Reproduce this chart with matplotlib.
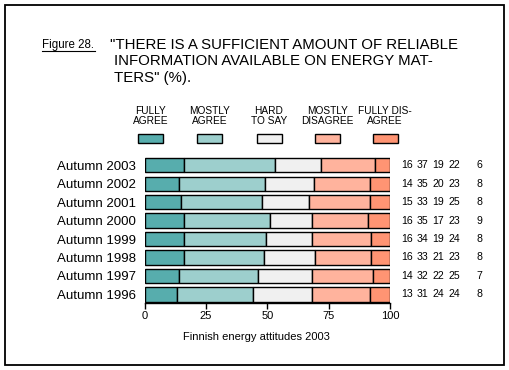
import numpy as np
import matplotlib
matplotlib.use('Agg')
import matplotlib.pyplot as plt
from matplotlib.patches import Rectangle

plt.rcParams['font.family'] = ['Liberation Sans', 'DejaVu Sans']

years = ['Autumn 2003', 'Autumn 2002', 'Autumn 2001', 'Autumn 2000',
         'Autumn 1999', 'Autumn 1998', 'Autumn 1997', 'Autumn 1996']
fully_agree = [16, 14, 15, 16, 16, 16, 14, 13]
mostly_agree = [37, 35, 33, 35, 34, 33, 32, 31]
hard_to_say = [19, 20, 19, 17, 19, 21, 22, 24]
mostly_disagree = [22, 23, 25, 23, 24, 23, 25, 24]
fully_disagree = [6, 8, 8, 9, 8, 8, 7, 8]
categories = ['FULLY\nAGREE', 'MOSTLY\nAGREE', 'HARD\nTO SAY', 'MOSTLY\nDISAGREE', 'FULLY DIS-\nAGREE']
colors = ['#57adad', '#9dcfcd', '#f0f0f0', '#ffb39d', '#ff9473']

series = np.array([fully_agree, mostly_agree, hard_to_say, mostly_disagree, fully_disagree], dtype=float)
shares = series / series.sum(axis=0) * 100

fig = plt.figure(figsize=(5.09, 3.70), dpi=100)
W, H = 509, 370

# outer frame
fig.patches.append(Rectangle((5 / W, 5 / H), 499 / W, 360 / H, transform=fig.transFigure,
                             fill=False, edgecolor='black', linewidth=1.3))

ax = fig.add_axes([144.7 / W, 67 / H, 245.3 / W, 146 / H])
ypos = np.arange(len(years))[::-1]
left = np.zeros(len(years))
for vals, c in zip(shares, colors):
    ax.barh(ypos, vals, left=left, height=0.78, color=c, edgecolor='black', linewidth=1.0)
    left += vals

ax.set_xlim(0, 100)
ax.set_ylim(-0.47, 7.45)
ax.set_yticks(ypos)
ax.set_yticklabels(years, fontsize=9.5)
ax.tick_params(axis='y', length=0, pad=6)
ax.set_xticks([0, 25, 50, 75, 100])
ax.tick_params(axis='x', length=4, width=1, labelsize=8, pad=2)
for s in ['top', 'right', 'left']:
    ax.spines[s].set_visible(False)
ax.spines['bottom'].set_linewidth(1)

# value columns on the right
col_x = [106.9, 113.2, 119.6, 126.1, 136.3]
for vals, cx in zip(series, col_x):
    for y, v in zip(ypos, vals):
        ax.text(cx, y, str(int(v)), ha='center', va='center', fontsize=7.6, clip_on=False)

# legend
leg_x = [150.5, 209.5, 269, 327.5, 385]
for lab, c, lx in zip(categories, colors, leg_x):
    fig.text(lx / W, 1 - 116 / H, lab, ha='center', va='center', fontsize=7.3, linespacing=1.05)
    fig.patches.append(Rectangle(((lx - 12.5) / W, 1 - 143 / H), 25 / W, 9 / H,
                                 transform=fig.transFigure, facecolor=c, edgecolor='black', linewidth=1))

# titles
fig.text(42 / W, 1 - 45 / H, 'Figure 28.', fontsize=8.3, va='center', ha='left')
fig.add_artist(plt.Line2D([42 / W, 95 / W], [1 - 51 / H, 1 - 51 / H], color='black', linewidth=0.8))
fig.text(110 / W, 1 - 45 / H, '"THERE IS A SUFFICIENT AMOUNT OF RELIABLE', fontsize=10.8, va='center')
fig.text(114 / W, 1 - 61 / H, 'INFORMATION AVAILABLE ON ENERGY MAT-', fontsize=10.8, va='center')
fig.text(114 / W, 1 - 78 / H, 'TERS" (%).', fontsize=10.8, va='center')

fig.text(256 / W, 1 - 337 / H, 'Finnish energy attitudes 2003', fontsize=8, ha='center', va='center')

fig.savefig('out.png', dpi=100)
